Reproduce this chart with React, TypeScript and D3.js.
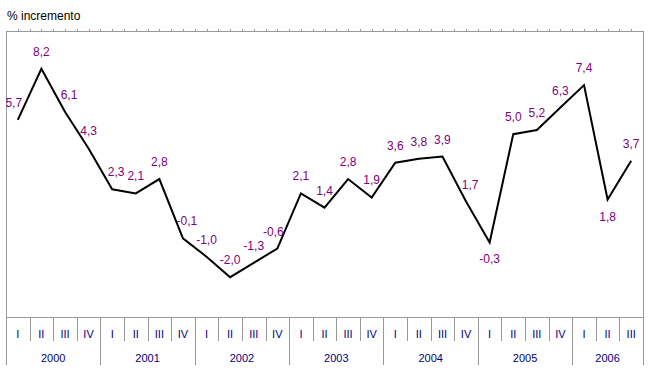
import * as React from "react";
import * as d3 from "d3";

const years: string[] = ["2000", "2001", "2002", "2003", "2004", "2005", "2006"];
const quarterNames: string[] = ["I", "II", "III", "IV"];
const quartersPerYear: number[] = [4, 4, 4, 4, 4, 4, 3];
const values: number[] = [
  5.7, 8.2, 6.1, 4.3, 2.3, 2.1, 2.8, -0.1, -1.0, -2.0, -1.3, -0.6, 2.1, 1.4,
  2.8, 1.9, 3.6, 3.8, 3.9, 1.7, -0.3, 5.0, 5.2, 6.3, 7.4, 1.8, 3.7
];
// labels drawn under the point instead of above
const labelsBelow: number[] = [20, 25];

const width = 650;
const height = 375;
const left = 6;
const right = 643;
const top = 31;
const plotBottom = 317;
const quarterRowBottom = 341;
const bottom = 365;

const gray = "#999999";
const navy = "#000080";
const purple = "#800080";
const font = "'Liberation Sans', Arial, sans-serif";

const quarters: { year: number; q: string; i: number }[] = [];
quartersPerYear.forEach((n, y) => {
  for (let k = 0; k < n; k++) quarters.push({ year: y, q: quarterNames[k], i: quarters.length });
});

const xScale = d3.scaleLinear().domain([0, values.length]).range([left, right]);
const yScale = d3.scaleLinear().domain([-4, 10]).range([318, 32]);
const cx = (i: number) => xScale(i + 0.5);

const line = d3
  .line<number>()
  .x((d, i) => cx(i))
  .y(d => yScale(d));

const fmt = (v: number) => v.toFixed(1).replace(".", ",");

// nudge a label sideways when a steep segment runs up into it
function labelShift(i: number) {
  const v = values[i];
  const prev = i > 0 ? values[i - 1] : null;
  const next = i < values.length - 1 ? values[i + 1] : null;
  if (prev !== null && prev - v >= 2) return 4;
  if (next !== null && next - v >= 2) return -4;
  return 0;
}

export default function App() {
  const halfTicks = d3.range(1, values.length * 2).map(k => xScale(k / 2));
  let start = 0;
  const yearSpans = quartersPerYear.map((n, y) => {
    const s = { year: years[y], x0: xScale(start), x1: xScale(start + n) };
    start += n;
    return s;
  });

  return (
    <svg
      width={width}
      height={height}
      style={{ position: "absolute", left: 0, top: 0, background: "#fff" }}
    >
      <text x={7} y={20} fontFamily={font} fontSize={12} fill="#000">
        % incremento
      </text>

      {/* frame */}
      <g stroke={gray} strokeWidth={1} shapeRendering="crispEdges">
        <line x1={left} x2={right} y1={top} y2={top} />
        <line x1={left} x2={right} y1={plotBottom} y2={plotBottom} />
        <line x1={left} x2={left} y1={top} y2={bottom} />
        <line x1={right} x2={right} y1={top} y2={bottom} />
        {halfTicks.map((x, k) => (
          <line key={k} x1={Math.round(x)} x2={Math.round(x)} y1={top - 2} y2={top} />
        ))}
        {quarters.slice(1).map(d => {
          const x = Math.round(xScale(d.i));
          const yearStart = d.q === "I";
          return (
            <line
              key={d.i}
              x1={x}
              x2={x}
              y1={plotBottom}
              y2={yearStart ? bottom : quarterRowBottom}
            />
          );
        })}
      </g>

      {/* category labels */}
      <g fontFamily={font} fontSize={11} fill={navy} textAnchor="middle">
        {quarters.map(d => (
          <text key={d.i} x={cx(d.i)} y={338}>
            {d.q}
          </text>
        ))}
        {yearSpans.map(s => (
          <text key={s.year} x={(s.x0 + s.x1) / 2} y={362}>
            {s.year}
          </text>
        ))}
      </g>

      <path d={line(values) || ""} fill="none" stroke="#000" strokeWidth={2} />

      <g fontFamily={font} fontSize={12} fill={purple} textAnchor="middle">
        {values.map((v, i) => {
          const below = labelsBelow.includes(i);
          return (
            <text
              key={i}
              x={cx(i) + (below ? 0 : labelShift(i))}
              y={below ? yScale(v) + 21 : yScale(v) - 13}
            >
              {fmt(v)}
            </text>
          );
        })}
      </g>
    </svg>
  );
}
